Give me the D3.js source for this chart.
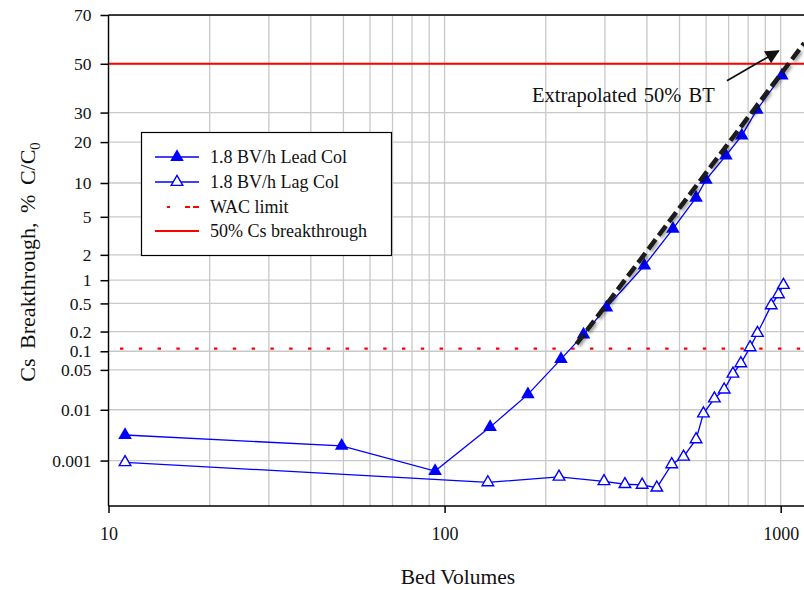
<!DOCTYPE html>
<html>
<head>
<meta charset="utf-8">
<script src="https://cdn.jsdelivr.net/npm/d3@7"></script>
<style>
    body { margin: 0; background: #fff; }
    #chart { width: 804px; height: 590px; }
    svg { display: block; font-family: "Liberation Serif", "Times New Roman", serif; }
</style>
</head>
<body>
<div id="chart"></div>
<script>
// lead column, 1.8 BV/h
const leadBV  = [11.2, 49.4, 93.7, 136.6, 177, 222, 259, 303, 393, 478, 560, 599, 687, 766, 849, 1008];
const leadPct = [0.0033, 0.0020, 0.0006, 0.0047, 0.019, 0.075, 0.18, 0.44, 1.5, 3.8, 7.5, 10.6, 16.2, 22, 31, 45];

// lag column, 1.8 BV/h
const lagBV  = [11.2, 134.5, 219, 298, 344, 387, 428, 474, 514, 560, 589, 635, 679, 721, 761, 811, 853, 937, 985, 1019];
const lagPct = [0.00092, 0.00034, 0.00045, 0.00036, 0.00031, 0.0003, 0.00026, 0.00083, 0.0012, 0.0027, 0.0085, 0.016, 0.023, 0.043, 0.064, 0.115, 0.19, 0.47, 0.66, 0.87];

// extrapolated trend (dashed black)
const trendBV  = [247, 1175];
const trendPct = [0.13, 58.8];

const wacLimit = 0.11;
const bt50 = 50;

const xTicks = [10, 100, 1000];
const yTicks = [0.001, 0.01, 0.05, 0.1, 0.2, 0.5, 1, 2, 5, 10, 20, 30, 50, 70];
const yTickLabels = ["0.001", "0.01", "0.05", "0.1", "0.2", "0.5", "1", "2", "5", "10", "20", "30", "50", "70"];

const legendLabels = ["1.8 BV/h Lead Col", "1.8 BV/h Lag Col", "WAC limit", "50% Cs breakthrough"];

// annotation
const arrowBV  = [692, 985];
const arrowPct = [42.8, 55.5];
const noteBV = 182, notePct = 34.2;
const noteText = "Extrapolated 50% BT";


// inverse normal cdf (Acklam), used for the probability axis
function probit(p) {
    const a = [-3.969683028665376e+01, 2.209460984245205e+02, -2.759285104469687e+02, 1.383577518672690e+02, -3.066479806614716e+01, 2.506628277459239e+00];
    const b = [-5.447609879822406e+01, 1.615858368580409e+02, -1.556989798598866e+02, 6.680131188771972e+01, -1.328068155288572e+01];
    const c = [-7.784894002430293e-03, -3.223964580411365e-01, -2.400758277161838e+00, -2.549732539343734e+00, 4.374664141464968e+00, 2.938163982698783e+00];
    const d = [7.784695709041462e-03, 3.224671290700398e-01, 2.445134137142996e+00, 3.754408661907416e+00];
    const pl = 0.02425;
    let q, r;
    if (p < pl) {
        q = Math.sqrt(-2 * Math.log(p));
        return (((((c[0]*q+c[1])*q+c[2])*q+c[3])*q+c[4])*q+c[5]) / ((((d[0]*q+d[1])*q+d[2])*q+d[3])*q+1);
    } else if (p <= 1 - pl) {
        q = p - 0.5; r = q * q;
        return (((((a[0]*r+a[1])*r+a[2])*r+a[3])*r+a[4])*r+a[5])*q / (((((b[0]*r+b[1])*r+b[2])*r+b[3])*r+b[4])*r+1);
    }
    q = Math.sqrt(-2 * Math.log(1 - p));
    return -(((((c[0]*q+c[1])*q+c[2])*q+c[3])*q+c[4])*q+c[5]) / ((((d[0]*q+d[1])*q+d[2])*q+d[3])*q+1);
}


class BreakthroughVis {

    constructor(parentElement) {
        this.parentElement = parentElement;
        this.initVis()
    }

    initVis() {
        let vis = this

        vis.width = 804;
        vis.height = 590;
        vis.plot = {left: 108.5, right: 807.3, top: 15, bottom: 506};

        vis.svg = d3.select("#" + vis.parentElement).append("svg")
            .attr("width", vis.width)
            .attr("height", vis.height);

        let defs = vis.svg.append("defs");
        defs.append("clipPath").attr("id", "plot-clip")
            .append("rect")
            .attr("x", vis.plot.left).attr("y", vis.plot.top)
            .attr("width", vis.plot.right - vis.plot.left)
            .attr("height", vis.plot.bottom - vis.plot.top);

        let shadow = defs.append("filter").attr("id", "shadow")
            .attr("x", "-10%").attr("y", "-10%").attr("width", "130%").attr("height", "130%");
        shadow.append("feDropShadow")
            .attr("dx", 2).attr("dy", 2).attr("stdDeviation", 1.4)
            .attr("flood-color", "#000").attr("flood-opacity", 0.35);

        defs.append("marker").attr("id", "arrowhead")
            .attr("viewBox", "0 0 10 10")
            .attr("refX", 9).attr("refY", 5)
            .attr("markerUnits", "userSpaceOnUse")
            .attr("markerWidth", 15).attr("markerHeight", 14)
            .attr("orient", "auto")
            .append("path")
            .attr("d", "M0,0 L10,5 L0,10 Z")
            .attr("fill", "#111");

        // scales
        vis.x = d3.scaleLog().domain([10, 1200]).range([vis.plot.left, vis.plot.right]);
        vis.yLin = d3.scaleLinear()
            .domain([probit(1e-6), probit(0.7)])
            .range([vis.plot.bottom, vis.plot.top]);
        vis.y = pct => vis.yLin(probit(pct / 100));

        vis.line = d3.line()
            .x(d => vis.x(d[0]))
            .y(d => vis.y(d[1]));

        vis.updateVis()
    }

    updateVis() {
        let vis = this

        let plotArea = vis.svg.append("g").attr("clip-path", "url(#plot-clip)");

        // grid
        plotArea.append("g").attr("class", "grid-x")
            .selectAll("line")
            .data(vis.x.ticks())
            .enter().append("line")
            .attr("x1", d => vis.x(d)).attr("x2", d => vis.x(d))
            .attr("y1", vis.plot.top).attr("y2", vis.plot.bottom)
            .attr("stroke", "#c8c8c8").attr("stroke-width", 1.3);

        plotArea.append("g").attr("class", "grid-y")
            .selectAll("line")
            .data(yTicks)
            .enter().append("line")
            .attr("x1", vis.plot.left).attr("x2", vis.plot.right)
            .attr("y1", d => vis.y(d)).attr("y2", d => vis.y(d))
            .attr("stroke", "#c8c8c8").attr("stroke-width", 1.3);

        // reference lines
        plotArea.append("line")
            .attr("x1", vis.plot.left).attr("x2", vis.plot.right)
            .attr("y1", vis.y(wacLimit)).attr("y2", vis.y(wacLimit))
            .attr("stroke", "#ff0000").attr("stroke-width", 2.2)
            .attr("stroke-dasharray", "3.4,15.4")
            .attr("stroke-dashoffset", 7.3);

        plotArea.append("line")
            .attr("x1", vis.plot.left).attr("x2", vis.plot.right)
            .attr("y1", vis.y(bt50)).attr("y2", vis.y(bt50))
            .attr("stroke", "#ff0000").attr("stroke-width", 2);

        // series
        let lead = d3.zip(leadBV, leadPct);
        let lag = d3.zip(lagBV, lagPct);

        plotArea.append("path")
            .datum(lag)
            .attr("d", vis.line)
            .attr("fill", "none")
            .attr("stroke", "#0000ff").attr("stroke-width", 1.3);

        plotArea.append("path")
            .datum(lead)
            .attr("d", vis.line)
            .attr("fill", "none")
            .attr("stroke", "#0000ff").attr("stroke-width", 1.3);

        let filledTri = d3.symbol(d3.symbolTriangle, 80);
        let openTri = d3.symbol(d3.symbolTriangle, 58);

        plotArea.append("g").selectAll("path")
            .data(lag)
            .enter().append("path")
            .attr("d", openTri)
            .attr("transform", d => `translate(${vis.x(d[0])},${vis.y(d[1])})`)
            .attr("fill", "#fff")
            .attr("stroke", "#0000ff").attr("stroke-width", 1.4);

        plotArea.append("g").selectAll("path")
            .data(lead)
            .enter().append("path")
            .attr("d", filledTri)
            .attr("transform", d => `translate(${vis.x(d[0])},${vis.y(d[1])})`)
            .attr("fill", "#0000ff");

        // extrapolated trend
        plotArea.append("path")
            .datum(d3.zip(trendBV, trendPct))
            .attr("d", vis.line)
            .attr("fill", "none")
            .attr("stroke", "#1a1a1a").attr("stroke-width", 4.5)
            .attr("stroke-dasharray", "12,5")
            .attr("filter", "url(#shadow)");

        // axes
        let yAxis = d3.axisLeft(vis.yLin)
            .tickValues(yTicks.map(t => probit(t / 100)))
            .tickFormat((d, i) => yTickLabels[i])
            .tickSize(8)
            .tickPadding(9);

        let yG = vis.svg.append("g")
            .attr("transform", `translate(${vis.plot.left},0)`)
            .call(yAxis);
        yG.select(".domain").remove();
        yG.selectAll(".tick line").attr("stroke", "#000").attr("stroke-width", 1.5);
        yG.selectAll(".tick text")
            .attr("fill", "#111")
            .style("font-family", "Liberation Serif, serif")
            .style("font-size", "17.5px");

        let xAxis = d3.axisBottom(vis.x)
            .tickValues(xTicks)
            .tickFormat(d3.format("d"))
            .tickSize(7)
            .tickPadding(14);

        let xG = vis.svg.append("g")
            .attr("transform", `translate(0,${vis.plot.bottom})`)
            .call(xAxis);
        xG.select(".domain").remove();
        xG.selectAll(".tick line").attr("stroke", "#000").attr("stroke-width", 1.5);
        xG.selectAll(".tick text")
            .attr("fill", "#111")
            .style("font-family", "Liberation Serif, serif")
            .style("font-size", "18px");

        // frame
        let frame = vis.svg.append("g").attr("stroke", "#000").attr("stroke-width", 1.4);
        frame.append("line")
            .attr("x1", vis.plot.left).attr("x2", vis.plot.left)
            .attr("y1", vis.plot.top).attr("y2", vis.plot.bottom);
        frame.append("line")
            .attr("x1", vis.plot.left).attr("x2", vis.plot.right)
            .attr("y1", vis.plot.bottom).attr("y2", vis.plot.bottom);
        frame.append("line")
            .attr("x1", vis.plot.left).attr("x2", vis.plot.right)
            .attr("y1", vis.plot.top).attr("y2", vis.plot.top);

        // axis titles
        vis.svg.append("text")
            .attr("x", 458).attr("y", 584)
            .attr("text-anchor", "middle")
            .attr("fill", "#111")
            .style("font-size", "21.5px")
            .text("Bed Volumes");

        let yTitle = vis.svg.append("text")
            .attr("transform", "translate(35,262) rotate(-90)")
            .attr("text-anchor", "middle")
            .attr("fill", "#111")
            .style("font-size", "22px")
            .style("word-spacing", "4px");
        yTitle.append("tspan").text("Cs Breakthrough, % C/C");
        yTitle.append("tspan").attr("dy", 5).style("font-size", "14.5px").text("0");

        // annotation
        vis.svg.append("line")
            .attr("x1", vis.x(arrowBV[0])).attr("y1", vis.y(arrowPct[0]))
            .attr("x2", vis.x(arrowBV[1])).attr("y2", vis.y(arrowPct[1]))
            .attr("stroke", "#111").attr("stroke-width", 1.8)
            .attr("marker-end", "url(#arrowhead)");

        vis.svg.append("text")
            .attr("x", vis.x(noteBV)).attr("y", vis.y(notePct))
            .attr("fill", "#111")
            .style("font-size", "20.5px")
            .style("word-spacing", "2px")
            .text(noteText);

        // legend
        let legend = vis.svg.append("g").attr("class", "legend");
        legend.append("rect")
            .attr("x", 141.5).attr("y", 132.5)
            .attr("width", 250).attr("height", 123)
            .attr("fill", "#fff")
            .attr("stroke", "#000").attr("stroke-width", 1.2);

        let rowY = [157, 182, 207, 231];
        let items = legend.selectAll(".item")
            .data(legendLabels)
            .enter().append("g")
            .attr("class", "item")
            .attr("transform", (d, i) => `translate(0,${rowY[i]})`);

        items.append("text")
            .attr("x", 210).attr("y", 0).attr("dy", "0.33em")
            .attr("fill", "#111")
            .style("font-size", "18px")
            .text(d => d);

        items.filter((d, i) => i < 2).append("line")
            .attr("x1", 155).attr("x2", 199)
            .attr("stroke", "#0000ff").attr("stroke-width", 1.3);
        items.filter((d, i) => i === 0).append("path")
            .attr("d", filledTri)
            .attr("transform", "translate(177,0)")
            .attr("fill", "#0000ff");
        items.filter((d, i) => i === 1).append("path")
            .attr("d", openTri)
            .attr("transform", "translate(177,0)")
            .attr("fill", "#fff")
            .attr("stroke", "#0000ff").attr("stroke-width", 1.4);
        items.filter((d, i) => i === 2).append("line")
            .attr("x1", 167).attr("x2", 199)
            .attr("stroke", "#ff0000").attr("stroke-width", 2.2)
            .attr("stroke-dasharray", "3,15,5,3,6");
        items.filter((d, i) => i === 3).append("line")
            .attr("x1", 155).attr("x2", 199)
            .attr("stroke", "#ff0000").attr("stroke-width", 2);
    }
}

new BreakthroughVis("chart");
</script>
</body>
</html>
